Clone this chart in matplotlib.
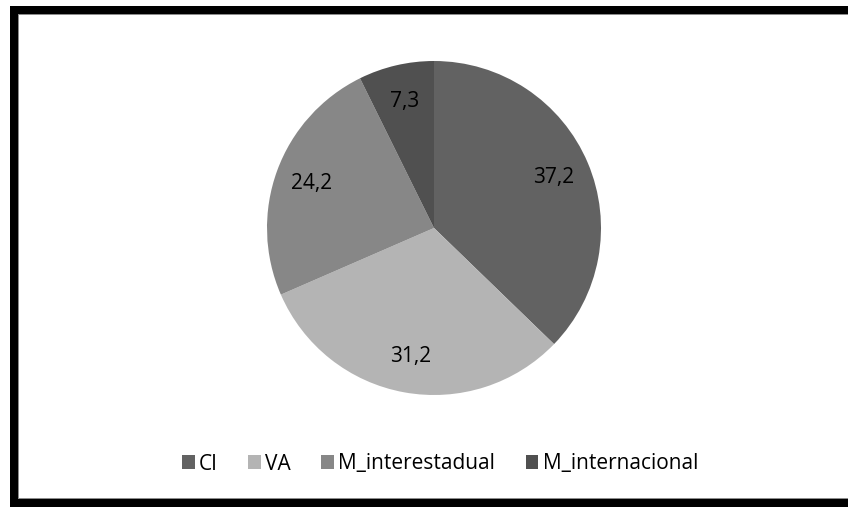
import matplotlib.pyplot as plt
from matplotlib.patches import Rectangle, Patch
import numpy as np

# Share of each component
categories = ["CI", "VA", "M_interestadual", "M_internacional"]
values = [37.2, 31.2, 24.2, 7.3]
value_labels = ["37,2", "31,2", "24,2", "7,3"]
colors = ["#626262", "#b4b4b4", "#878787", "#505050"]

plt.rcParams['font.family'] = ['Open Sans', 'DejaVu Sans']

W, H = 848, 507
fig = plt.figure(figsize=(W / 100, H / 100), dpi=100)

# thick black frame (left, top, bottom) with a thin gray inner line
fig.patches.append(Rectangle((10 / W, 0), 1, 1 - 6 / H, transform=fig.transFigure,
                             facecolor="black", edgecolor="none", zorder=-10))
fig.patches.append(Rectangle((18 / W, 8 / H), 1, 1 - 22 / H, transform=fig.transFigure,
                             facecolor="#8c8c8c", edgecolor="none", zorder=-9))
fig.patches.append(Rectangle((19 / W, 9 / H), 1, 1 - 24 / H, transform=fig.transFigure,
                             facecolor="white", edgecolor="none", zorder=-8))

cx, cy, r = 434, 228, 167
ax = fig.add_axes([(cx - r) / W, (H - cy - r) / H, 2 * r / W, 2 * r / H])
ax.patch.set_visible(False)
wedges, _ = ax.pie(values, colors=colors, startangle=90, counterclock=False,
                   wedgeprops=dict(linewidth=0))
ax.set_xlim(-1, 1)
ax.set_ylim(-1, 1)
ax.set_aspect('equal')

for w, lab in zip(wedges, value_labels):
    ang = np.deg2rad((w.theta1 + w.theta2) / 2)
    ax.text(0.78 * np.cos(ang), 0.78 * np.sin(ang), lab, ha='center', va='center',
            fontsize=15, color='black')

handles = [Patch(facecolor=c, edgecolor='none') for c in colors]
fig.legend(handles, categories, loc='center', bbox_to_anchor=(440 / W, 1 - 464 / H),
           ncol=4, frameon=False, fontsize=15, handlelength=0.62, handleheight=0.62,
           handletextpad=0.2, columnspacing=1.45)

fig.savefig("out.png", dpi=100)
